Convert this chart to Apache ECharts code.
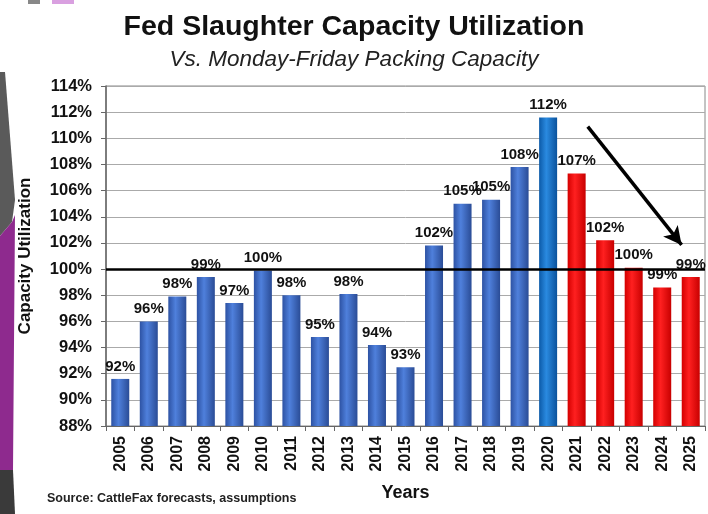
<!DOCTYPE html>
<html>
<head>
<meta charset="utf-8">
<script src="https://cdn.jsdelivr.net/npm/echarts@6/dist/echarts.min.js"></script>
<style>
  html, body { margin: 0; padding: 0; background: #fff; }
  #chart { width: 708px; height: 514px; }
</style>
</head>
<body>
<div id="chart"></div>
<script>
// data
const years = ['2005', '2006', '2007', '2008', '2009', '2010', '2011', '2012', '2013', '2014', '2015',
  '2016', '2017', '2018', '2019', '2020', '2021', '2022', '2023', '2024', '2025']
const utilization = [91.6, 96.0, 97.9, 99.4, 97.4, 99.9, 98.0, 94.8, 98.1, 94.2, 92.5,
  101.8, 105.0, 105.3, 107.8, 111.6, 107.3, 102.2, 100.1, 98.6, 99.4]
const barLabels = ['92%', '96%', '98%', '99%', '97%', '100%', '98%', '95%', '98%', '94%', '93%',
  '102%', '105%', '105%', '108%', '112%', '107%', '102%', '100%', '99%', '99%']
const peakYear = '2020'
const forecastYears = ['2021', '2022', '2023', '2024', '2025']
const refLine = 100
// arrow from peak down to forecast (x as category position, y in %)
const arrowFrom = [16.39, 110.9]
const arrowTo = [19.68, 101.85]

const chart = echarts.init(document.getElementById('chart'))

// cylinder-ish horizontal gradients
const grad = (edge, mid, edge2) => new echarts.graphic.LinearGradient(0, 0, 1, 0, [
  { offset: 0, color: edge },
  { offset: 0.4, color: mid },
  { offset: 1, color: edge2 }
])
const blue = grad('#2d52a3', '#4f80dc', '#2a4c96')
const peakBlue = grad('#0c5aa8', '#2a8ae0', '#0a529c')
const red = grad('#d40000', '#ff2020', '#c80000')

const barData = utilization.map((v, i) => {
  let color = blue
  if (years[i] === peakYear) color = peakBlue
  if (forecastYears.includes(years[i])) color = red
  return { value: v, itemStyle: { color } }
})

const font = 'Liberation Sans, Arial, sans-serif'

const option = {
  animation: false,
  backgroundColor: '#fff',
  title: [
    {
      text: 'Fed Slaughter Capacity Utilization',
      left: 'center',
      top: 8,
      textStyle: { fontFamily: font, fontSize: 28.5, fontWeight: 'bold', color: '#111' }
    },
    {
      text: 'Vs. Monday-Friday Packing Capacity',
      left: 'center',
      top: 43,
      textStyle: { fontFamily: font, fontSize: 22.5, fontStyle: 'italic', fontWeight: 'normal', color: '#222' }
    },
    {
      text: 'Source: CattleFax forecasts, assumptions',
      left: 42,
      top: 487,
      textStyle: { fontFamily: font, fontSize: 12.5, fontWeight: 'bold', color: '#222' }
    }
  ],
  grid: {
    left: 106,
    right: 3,
    top: 86,
    bottom: 88,
    show: true,
    borderColor: '#888',
    borderWidth: 1
  },
  xAxis: [
    {
      type: 'category',
      data: years,
      name: 'Years',
      nameLocation: 'middle',
      nameGap: 58,
      nameTextStyle: { fontFamily: font, fontSize: 18, fontWeight: 'bold', color: '#111' },
      axisLine: { lineStyle: { color: '#666', width: 1 } },
      axisTick: { show: true, length: 5, lineStyle: { color: '#666' } },
      axisLabel: {
        rotate: 90,
        margin: 10,
        fontFamily: font,
        fontSize: 16,
        fontWeight: 'bold',
        color: '#111'
      }
    },
    {
      // hidden helper axis for the arrow annotation
      type: 'value',
      min: -0.5,
      max: 20.5,
      show: false
    }
  ],
  yAxis: {
    type: 'value',
    min: 88,
    max: 114,
    interval: 2,
    name: 'Capacity Utilization',
    nameLocation: 'middle',
    nameGap: 72,
    nameTextStyle: { fontFamily: font, fontSize: 17, fontWeight: 'bold', color: '#111' },
    axisLine: { show: true, onZero: false, lineStyle: { color: '#666', width: 1.5 } },
    axisTick: { show: true, length: 5, lineStyle: { color: '#666' } },
    axisLabel: {
      formatter: '{value}%',
      margin: 14,
      fontFamily: font,
      fontSize: 16.5,
      fontWeight: 'bold',
      color: '#111'
    },
    splitLine: { lineStyle: { color: '#aaa', width: 1 } }
  },
  series: [
    {
      name: 'Utilization',
      type: 'bar',
      data: barData,
      barWidth: 18,
      label: {
        show: true,
        position: 'top',
        distance: 5,
        fontFamily: font,
        fontSize: 15,
        fontWeight: 'bold',
        color: '#111',
        formatter: p => barLabels[p.dataIndex]
      },
      markLine: {
        silent: true,
        symbol: 'none',
        label: { show: false },
        lineStyle: { color: '#000', width: 2.5, type: 'solid' },
        data: [{ yAxis: refLine }]
      },
      z: 2
    },
    {
      name: 'arrow',
      type: 'line',
      xAxisIndex: 1,
      data: [],
      markLine: {
        silent: true,
        symbol: ['none', 'arrow'],
        symbolSize: [14, 18],
        label: { show: false },
        lineStyle: { color: '#000', width: 3.5, type: 'solid' },
        data: [[{ coord: arrowFrom }, { coord: arrowTo }]]
      },
      z: 5
    }
  ],
  graphic: [
    // slide background bits at the left edge
    { type: 'polygon', shape: { points: [[0, 72], [5, 72], [15, 200], [12, 222], [0, 236]] }, style: { fill: '#5a5a5a' } },
    { type: 'polygon', shape: { points: [[0, 236], [12, 222], [15, 215], [13, 470], [0, 470]] }, style: { fill: '#8e2a8e' } },
    { type: 'polygon', shape: { points: [[0, 470], [13, 470], [15, 514], [0, 514]] }, style: { fill: '#3a3a3a' } },
    { type: 'rect', shape: { x: 28, y: 0, width: 12, height: 4 }, style: { fill: '#888' } },
    { type: 'rect', shape: { x: 52, y: 0, width: 22, height: 4 }, style: { fill: '#d9a0e0' } }
  ]
}

chart.setOption(option)
</script>
</body>
</html>
